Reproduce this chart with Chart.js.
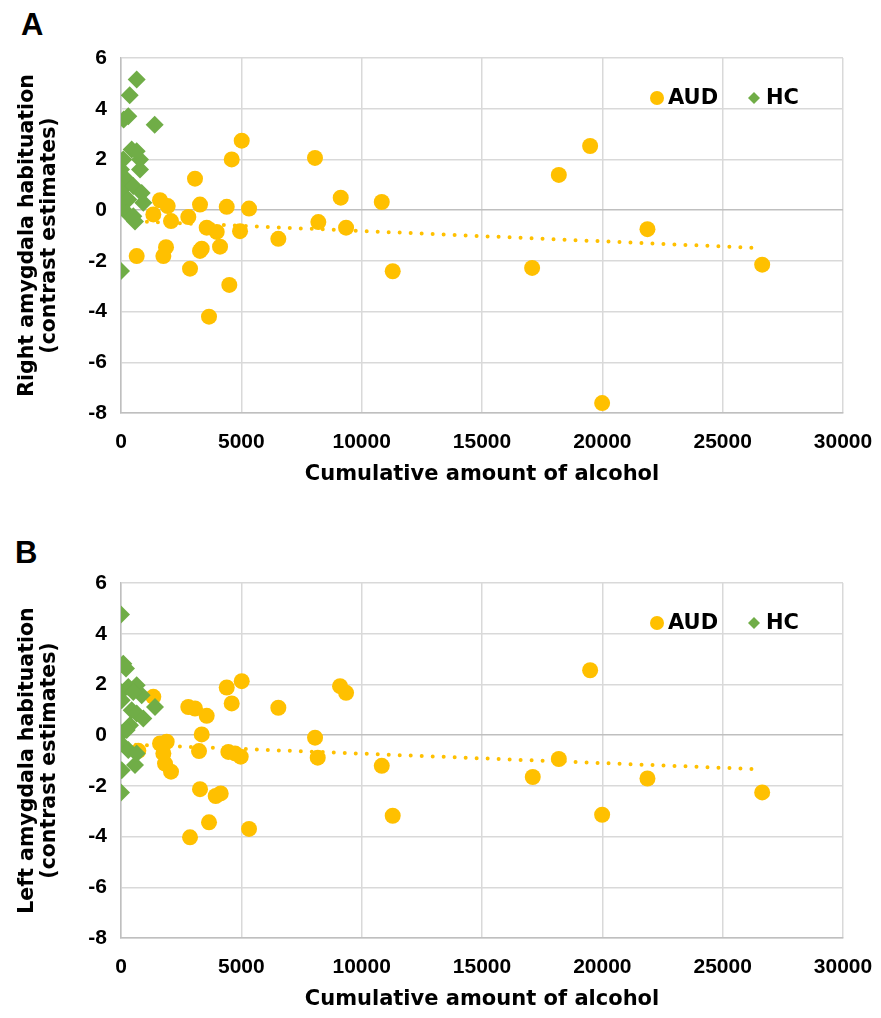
<!DOCTYPE html>
<html>
<head>
<meta charset="utf-8">
<script src="https://cdn.jsdelivr.net/npm/chart.js@4"></script>
<style>
  body { margin: 0; background: #fff; }
  #wrap { position: relative; width: 881px; height: 1018px; background: #fff; }
  canvas { position: absolute; left: 0; }
  .panel { position: absolute; font: bold 31px "Liberation Sans", Arial, sans-serif; line-height: 1; color: #000; }
</style>
</head>
<body>
<div id="wrap">
  <div class="panel" style="left:21px;top:9px;">A</div>
  <canvas id="chartA" width="881" height="500" style="top:0"></canvas>
  <div class="panel" style="left:15px;top:537px;">B</div>
  <canvas id="chartB" width="881" height="518" style="top:500px"></canvas>
</div>
<script>
// ticks
const xTicks = [0, 5000, 10000, 15000, 20000, 25000, 30000];
const yTicks = [-8, -6, -4, -2, 0, 2, 4, 6];

// panel A: right amygdala
const audRightX = [5016, 4600, 8060, 3075, 9130, 10835, 1620, 1940, 3283, 4393, 5320, 1343, 2078, 2797, 3561, 3977, 4946, 8200, 9352, 6538, 4115, 3283, 3354, 1870, 1760, 652, 2868, 4500, 3657, 11290, 19493, 18192, 21875, 17082, 26642, 19992];
const audRightY = [2.74, 2.0, 2.06, 1.24, 0.49, 0.32, 0.39, 0.16, 0.22, 0.13, 0.06, -0.17, -0.43, -0.27, -0.69, -0.86, -0.83, -0.47, -0.69, -1.13, -1.44, -1.61, -1.52, -1.46, -1.81, -1.81, -2.31, -2.95, -4.2, -2.41, 2.53, 1.39, -0.75, -2.28, -2.15, -7.61];
const hcRightX = [652, 360, 112, 303, 1400, 445, 96, 790, 652, 0, 790, 166, 28, 511, 860, 303, 927, 0, 237, 511, 582, 0];
const hcRightY = [5.15, 4.53, 3.57, 3.7, 3.37, 2.39, 2.0, 2.0, 2.32, 1.6, 1.6, 1.27, 0.81, 0.95, 0.68, 0.42, 0.29, 0.16, -0.1, -0.24, -0.45, -2.4];
const trendRightX = [620, 26640];
const trendRightY = [-0.44, -1.5];

// panel B: left amygdala
const audLeftX = [5016, 4393, 4600, 9102, 9352, 1343, 2797, 3075, 3561, 6538, 3354, 8063, 1898, 1621, 1760, 3242, 4461, 4738, 4974, 8174, 1829, 2078, 10835, 3283, 4143, 3935, 3657, 2868, 5320, 11290, 720, 19493, 18192, 17110, 21875, 19992, 26642];
const audLeftY = [2.13, 1.88, 1.25, 1.93, 1.67, 1.51, 1.11, 1.05, 0.76, 1.08, 0.03, -0.1, -0.26, -0.33, -0.72, -0.63, -0.66, -0.72, -0.85, -0.89, -1.12, -1.44, -1.21, -2.13, -2.3, -2.4, -3.44, -4.03, -3.7, -3.18, -0.62, 2.56, -0.94, -1.65, -1.71, -3.14, -2.26];
const hcLeftX = [0, 96, 208, 0, 303, 652, 860, 511, 28, 445, 652, 1413, 927, 374, 28, 237, 0, 303, 652, 582, 28, 0];
const hcLeftY = [4.76, 2.82, 2.63, 1.7, 1.9, 1.97, 1.57, 1.7, 1.38, 0.98, 0.85, 1.11, 0.66, 0.39, 0.07, 0.2, -0.33, -0.59, -0.72, -1.18, -1.38, -2.26];
const trendLeftX = [620, 26640];
const trendLeftY = [-0.38, -1.35];

const AUD_COLOR = '#FFC000';
const HC_COLOR = '#70AD47';
const tickFont = '"Liberation Sans", Arial, sans-serif';
const titleFont = '"DejaVu Sans", Verdana, sans-serif';

const toPoints = (xs, ys) => xs.map((x, i) => ({ x: x, y: ys[i] }));

// legend drawn inside plot area, top right
const legendPlugin = {
  id: 'cornerLegend',
  afterDraw(chart) {
    const ctx = chart.ctx;
    const area = chart.chartArea;
    const y = area.top + 40;
    ctx.save();
    ctx.fillStyle = AUD_COLOR;
    ctx.beginPath();
    ctx.arc(area.right - 186, y, 7, 0, Math.PI * 2);
    ctx.fill();
    ctx.fillStyle = HC_COLOR;
    ctx.beginPath();
    ctx.moveTo(area.right - 89, y - 6);
    ctx.lineTo(area.right - 83, y);
    ctx.lineTo(area.right - 89, y + 6);
    ctx.lineTo(area.right - 95, y);
    ctx.closePath();
    ctx.fill();
    ctx.fillStyle = '#000';
    ctx.font = 'bold 21px ' + titleFont;
    ctx.textBaseline = 'middle';
    ctx.fillText('AUD', area.right - 175, y + 1);
    ctx.fillText('HC', area.right - 77, y + 1);
    ctx.restore();
  }
};

function makeChart(id, yTitle, audX, audY, hcX, hcY, trX, trY, padTop, padBottom) {
  return new Chart(document.getElementById(id), {
    type: 'scatter',
    data: {
      datasets: [{
        label: 'HC',
        data: toPoints(hcX, hcY),
        backgroundColor: HC_COLOR,
        borderWidth: 0,
        pointStyle: 'rectRot',
        pointRadius: 9,
        order: 0
      }, {
        label: 'trend',
        type: 'line',
        data: toPoints(trX, trY),
        borderColor: AUD_COLOR,
        borderWidth: 4,
        borderDash: [0, 11],
        borderCapStyle: 'round',
        pointRadius: 0,
        fill: false,
        order: 1
      }, {
        label: 'AUD',
        data: toPoints(audX, audY),
        backgroundColor: AUD_COLOR,
        borderWidth: 0,
        pointStyle: 'circle',
        pointRadius: 8,
        order: 2
      }]
    },
    options: {
      responsive: false,
      animation: false,
      events: [],
      layout: { padding: { left: 0, right: 38, top: padTop, bottom: padBottom } },
      plugins: { legend: { display: false }, tooltip: { enabled: false } },
      scales: {
        x: {
          type: 'linear',
          min: 0,
          max: 30000,
          afterBuildTicks: (s) => { s.ticks = xTicks.map(v => ({ value: v })); },
          afterFit: (s) => { s.height = 80; s.paddingRight = 0; s.paddingLeft = 0; },
          grid: { color: '#d9d9d9', lineWidth: 1.5, drawTicks: false },
          border: { color: '#bfbfbf', width: 1.5 },
          ticks: { color: '#000', padding: 17, callback: (v) => String(v), font: { family: tickFont, size: 21, weight: 'bold' } },
          title: { display: true, text: 'Cumulative amount of alcohol', color: '#000', padding: { top: 0, bottom: 6 }, font: { family: titleFont, size: 21, weight: 'bold' } }
        },
        y: {
          type: 'linear',
          min: -8,
          max: 6,
          afterBuildTicks: (s) => { s.ticks = yTicks.map(v => ({ value: v })); },
          afterFit: (s) => { s.width = 121; },
          grid: {
            color: (c) => c.tick && c.tick.value === 0 ? '#bfbfbf' : '#d9d9d9',
            lineWidth: 1.5,
            drawTicks: false
          },
          border: { color: '#bfbfbf', width: 1.5 },
          ticks: { color: '#000', padding: 14, callback: (v) => String(v), font: { family: tickFont, size: 21, weight: 'bold' } },
          title: { display: true, text: yTitle, color: '#000', padding: { top: 17, bottom: 0 }, font: { family: titleFont, size: 20.5, weight: 'bold', lineHeight: 1.07 } }
        }
      }
    },
    plugins: [legendPlugin]
  });
}

makeChart('chartA', ['Right amygdala habituation', '(contrast estimates)'],
  audRightX, audRightY, hcRightX, hcRightY, trendRightX, trendRightY, 58, 7);
makeChart('chartB', ['Left amygdala habituation', '(contrast estimates)'],
  audLeftX, audLeftY, hcLeftX, hcLeftY, trendLeftX, trendLeftY, 83, 0);
</script>
</body>
</html>
